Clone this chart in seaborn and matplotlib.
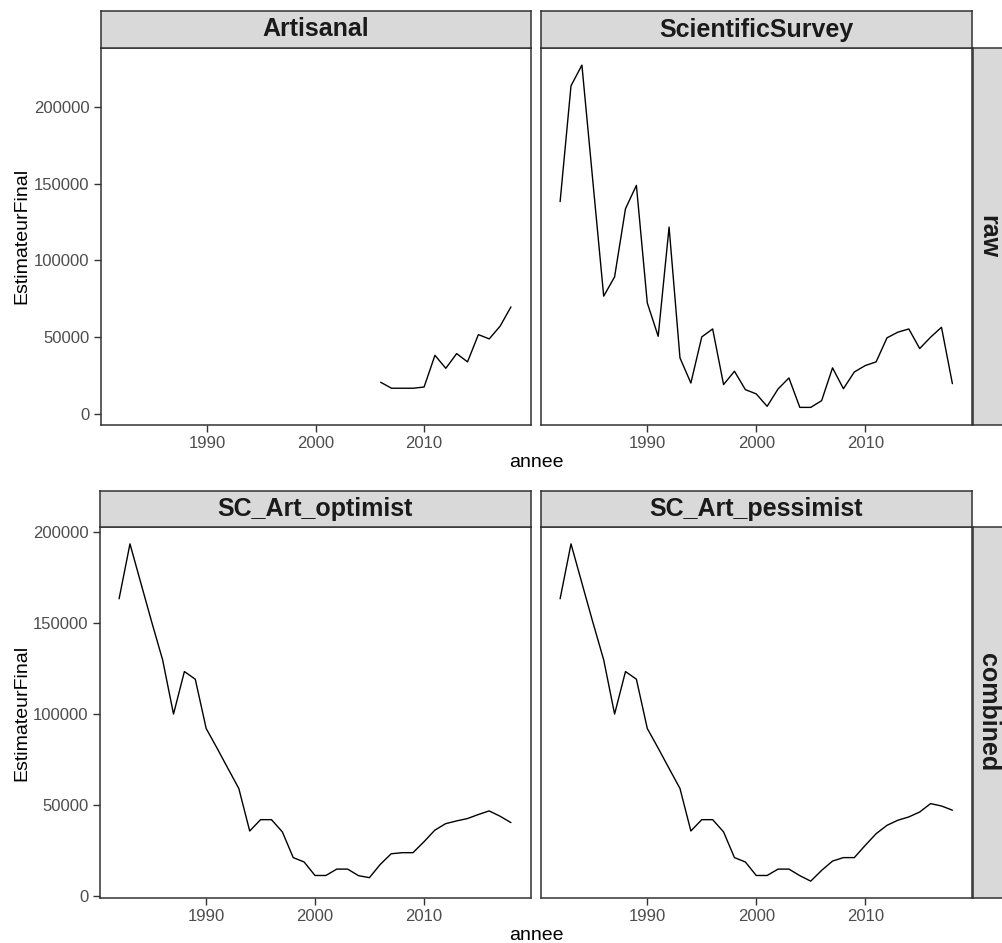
import numpy as np
import pandas as pd
import matplotlib.pyplot as plt
import seaborn as sns

# years / values
years = list(range(1982, 2019))
artisanal_years = list(range(2006, 2019))

artisanal = [20500, 16600, 16600, 16600, 17400, 38100, 29600, 39200, 33800,
             51600, 48800, 57100, 69700]

scientific = [138400, 214000, 227500, 152000, 76700, 89300, 133800, 149000, 72300, 50500,
              121800, 36400, 20000, 50100, 55300, 19000, 27700, 15700, 12900, 4800,
              16100, 23300, 4100, 4100, 8500, 29900, 16300, 27200, 31400, 33800,
              49500, 53200, 55300, 42500, 49900, 56400, 19600]

optimist = [163200, 193300, 171800, 150400, 129700, 100000, 123300, 119100, 92100, 81300,
            70200, 59200, 35900, 42100, 42100, 35400, 21300, 18900, 11500, 11500,
            15000, 15000, 11400, 10300, 17600, 23400, 24000, 24000, 29900, 36300,
            39900, 41400, 42700, 44900, 46900, 44000, 40500]

pessimist = [163200, 193300, 171800, 150400, 129700, 100000, 123300, 119100, 92100, 81300,
             70200, 59200, 35900, 42100, 42100, 35400, 21300, 18900, 11500, 11500,
             15000, 15000, 11400, 8400, 14300, 19400, 21300, 21300, 28000, 34400,
             39000, 41800, 43600, 46300, 50900, 49600, 47300]

y_ticks = [0, 50000, 100000, 150000, 200000]
x_ticks = [1990, 2000, 2010]

df = pd.concat([
    pd.DataFrame({'annee': artisanal_years, 'EstimateurFinal': artisanal, 'source': 'Artisanal'}),
    pd.DataFrame({'annee': years, 'EstimateurFinal': scientific, 'source': 'ScientificSurvey'}),
    pd.DataFrame({'annee': years, 'EstimateurFinal': optimist, 'source': 'SC_Art_optimist'}),
    pd.DataFrame({'annee': years, 'EstimateurFinal': pessimist, 'source': 'SC_Art_pessimist'}),
])

sns.set_theme(style="white")
plt.rcParams['font.family'] = ['Liberation Sans', 'DejaVu Sans']

W, H = 1002, 943
fig = plt.figure(figsize=(W / 100, H / 100), dpi=100)
fig.patch.set_facecolor('white')

BORDER = '#333333'


def rect(x0, y0, x1, y1):
    return [x0 / W, 1 - y1 / H, (x1 - x0) / W, (y1 - y0) / H]


def strip(box, label, rotation=0):
    s = fig.add_axes(rect(*box))
    s.set_facecolor('#D9D9D9')
    s.set_xticks([])
    s.set_yticks([])
    for sp in s.spines.values():
        sp.set_color(BORDER)
        sp.set_linewidth(1.1)
    s.text(0.5, 0.5, label, transform=s.transAxes, ha='center', va='center',
           fontsize=18, fontweight='bold', color='#1A1A1A', rotation=rotation,
           rotation_mode='anchor')
    return s


def row(names, row_label, top, bottom, strip_top, left_x):
    ax_l = fig.add_axes(rect(left_x, top, 530.5, bottom))
    ax_r = fig.add_axes(rect(540.5, top, 972, bottom), sharex=ax_l, sharey=ax_l)
    for ax, name in zip([ax_l, ax_r], names):
        sub = df[df['source'] == name]
        sns.lineplot(data=sub, x='annee', y='EstimateurFinal', ax=ax,
                     color='black', linewidth=1.0)
        ax.set_xlabel('')
        ax.set_ylabel('')
        ax.set_facecolor('white')
        for sp in ax.spines.values():
            sp.set_color(BORDER)
            sp.set_linewidth(1.1)
        ax.set_xticks(x_ticks)
        ax.tick_params(axis='both', length=5, width=1, color=BORDER,
                       labelcolor='#4D4D4D', labelsize=12, pad=3,
                       bottom=True, left=True)
    ax_l.set_yticks(y_ticks)
    ax_l.set_yticklabels([str(v) for v in y_ticks])
    ax_r.tick_params(axis='y', left=False, labelleft=False)
    ax_l.margins(x=0.05, y=0.05)

    strip((left_x, strip_top, 530.5, top), names[0])
    strip((540.5, strip_top, 972, top), names[1])
    strip((973, top, 1003, bottom), row_label, rotation=-90)

    fig.text(536 / W, 1 - (bottom + 38) / H, 'annee', ha='center', va='center',
             fontsize=14, color='black')
    fig.text(22 / W, 1 - ((top + bottom) / 2) / H, 'EstimateurFinal', ha='center',
             va='center', rotation=90, fontsize=14, color='black')
    return ax_l, ax_r


row(['Artisanal', 'ScientificSurvey'], 'raw', 48, 424.5, 11, 100.5)
row(['SC_Art_optimist', 'SC_Art_pessimist'], 'combined', 527, 898, 490.5, 99.5)

fig.savefig('out.png', dpi=100, facecolor='white')
